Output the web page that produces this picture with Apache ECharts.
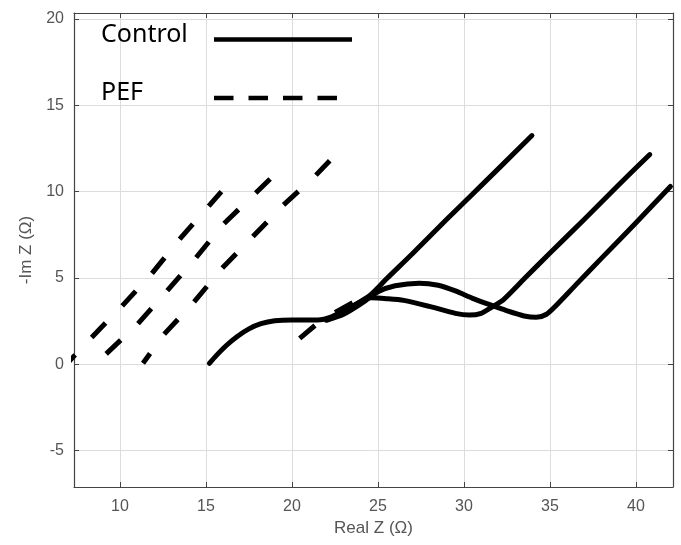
<!DOCTYPE html>
<html>
<head>
<meta charset="utf-8">
<script src="https://cdn.jsdelivr.net/npm/echarts@6/dist/echarts.min.js"></script>
<style>html,body{margin:0;padding:0;background:#fff;}#c{width:681px;height:545px;}</style>
</head>
<body>
<div id="c"></div>
<script>
// Axis settings
var xRange = [7.33, 42.15];
var yRange = [-7.11, 20.35];
var xName = 'Real Z (\u03A9)';
var yName = '-Im Z (\u03A9)';
var legendNames = ['Control', 'PEF'];

// Control (solid) curves
var control1 = [[15.2,0.05],[15.6,0.5],[16.2,1.1],[16.8,1.6],[17.5,2.05],[18.2,2.35],[19.0,2.52],[20.0,2.57],[21.5,2.57],[22.3,2.75],[23.2,3.2],[24.0,3.65],[24.6,4.05],[25.5,4.95],[27.0,6.4],[29.0,8.4],[31.0,10.35],[33.95,13.25]];
var control2 = [[22.0,2.58],[22.8,2.9],[23.6,3.4],[24.6,3.85],[25.5,3.8],[26.5,3.7],[28.0,3.35],[29.5,2.95],[30.3,2.85],[31.0,2.95],[31.6,3.3],[32.3,3.75],[33.5,4.95],[35.0,6.45],[37.0,8.4],[39.0,10.4],[40.8,12.15]];
var control3 = [[22.0,2.55],[23.0,2.9],[24.0,3.5],[25.0,4.2],[26.0,4.55],[27.4,4.7],[28.5,4.58],[29.5,4.25],[30.5,3.82],[31.5,3.45],[32.5,3.1],[33.5,2.8],[34.2,2.72],[34.8,2.9],[35.3,3.35],[36.5,4.6],[38.0,6.15],[40.0,8.2],[42.0,10.3]];

// PEF (dashed) curves
var pef1 = [[6.6,-0.3],[8.3,1.5],[10.1,3.35],[11.86,5.26],[13.43,7.2],[15.9,10.0]];
var pef2 = [[9.2,0.6],[11.0,2.3],[12.7,4.2],[14.4,6.15],[16.0,8.1],[18.8,10.8]];
var pef3 = [[11.34,0.06],[12.56,1.73],[14.24,3.53],[15.93,5.55],[17.67,7.34],[19.48,9.2],[21.34,10.9],[22.2,11.8]];
var pef4 = [[20.45,1.5],[21.4,2.3],[22.5,3.0],[23.6,3.6],[24.6,4.1]];

var grid = {left:74, right:8, top:13, bottom:58};
var lblColor = '#555';
var axisColor = '#444';

function mainX() {
  return {
    type:'value', min:xRange[0], max:xRange[1], splitNumber:7, position:'bottom',
    name:xName, nameLocation:'middle', nameGap:31,
    nameTextStyle:{fontSize:17, color:lblColor, fontFamily:'Liberation Sans'},
    axisLine:{show:true, onZero:false, lineStyle:{color:axisColor, width:1.2}},
    axisTick:{show:true, inside:true, length:5, lineStyle:{color:axisColor}},
    axisLabel:{show:true, fontSize:16, color:lblColor, margin:12, fontFamily:'Liberation Sans', showMinLabel:false, showMaxLabel:false},
    splitLine:{show:true, lineStyle:{color:'#dcdcdc', width:1}}
  };
}
function mainY() {
  return {
    type:'value', min:yRange[0], max:yRange[1], splitNumber:5, position:'left',
    name:yName, nameLocation:'middle', nameGap:36, nameRotate:90,
    nameTextStyle:{fontSize:17, color:lblColor, fontFamily:'Liberation Sans'},
    axisLine:{show:true, onZero:false, lineStyle:{color:axisColor, width:1.2}},
    axisTick:{show:true, inside:true, length:5, lineStyle:{color:axisColor}},
    axisLabel:{show:true, fontSize:16, color:lblColor, margin:10, fontFamily:'Liberation Sans', showMinLabel:false, showMaxLabel:false},
    splitLine:{show:true, lineStyle:{color:'#dcdcdc', width:1}}
  };
}
var xTop = mainX(); xTop.position='top'; xTop.name=''; xTop.axisLabel={show:false}; xTop.splitLine={show:false};
var yRight = mainY(); yRight.position='right'; yRight.name=''; yRight.axisLabel={show:false}; yRight.splitLine={show:false};

function solid(name, data) {
  return {type:'line', name:name, data:data, xAxisIndex:0, yAxisIndex:0, showSymbol:false, symbol:'none', smooth:0.25,
    lineStyle:{color:'#000', width:5, cap:'round', join:'round'}, silent:true, animation:false, z:3};
}
function dashed(name, data, offset) {
  return {type:'line', name:name, data:data, xAxisIndex:0, yAxisIndex:0, showSymbol:false, symbol:'none', smooth:false,
    lineStyle:{color:'#000', width:5, type:[20,24], dashOffset:offset||0, cap:'butt'}, silent:true, animation:false, z:3};
}

var chart = echarts.init(document.getElementById('c'), null, {renderer:'canvas'});
chart.setOption({
  animation:false,
  grid:grid,
  xAxis:[mainX(), xTop],
  yAxis:[mainY(), yRight],
  series:[
    solid(legendNames[0], control1),
    solid(legendNames[0], control2),
    solid(legendNames[0], control3),
    dashed(legendNames[1], pef1, 0),
    dashed(legendNames[1], pef2, 0),
    dashed(legendNames[1], pef3, 8),
    dashed(legendNames[1], pef4, 0)
  ],
  graphic:[
    {type:'text', z:100, left:101, top:22, style:{text:legendNames[0], fontSize:25, fontFamily:'Noto Sans', fill:'#000'}},
    {type:'line', z:100, shape:{x1:214, y1:39.5, x2:352, y2:39.5}, style:{stroke:'#000', lineWidth:4.5}},
    {type:'text', z:100, left:101, top:80, style:{text:legendNames[1], fontSize:25, fontFamily:'Noto Sans', fill:'#000'}},
    {type:'line', z:100, shape:{x1:214, y1:98, x2:337, y2:98}, style:{stroke:'#000', lineWidth:4.5, lineDash:[19.5,15]}}
  ]
});
</script>
</body>
</html>
